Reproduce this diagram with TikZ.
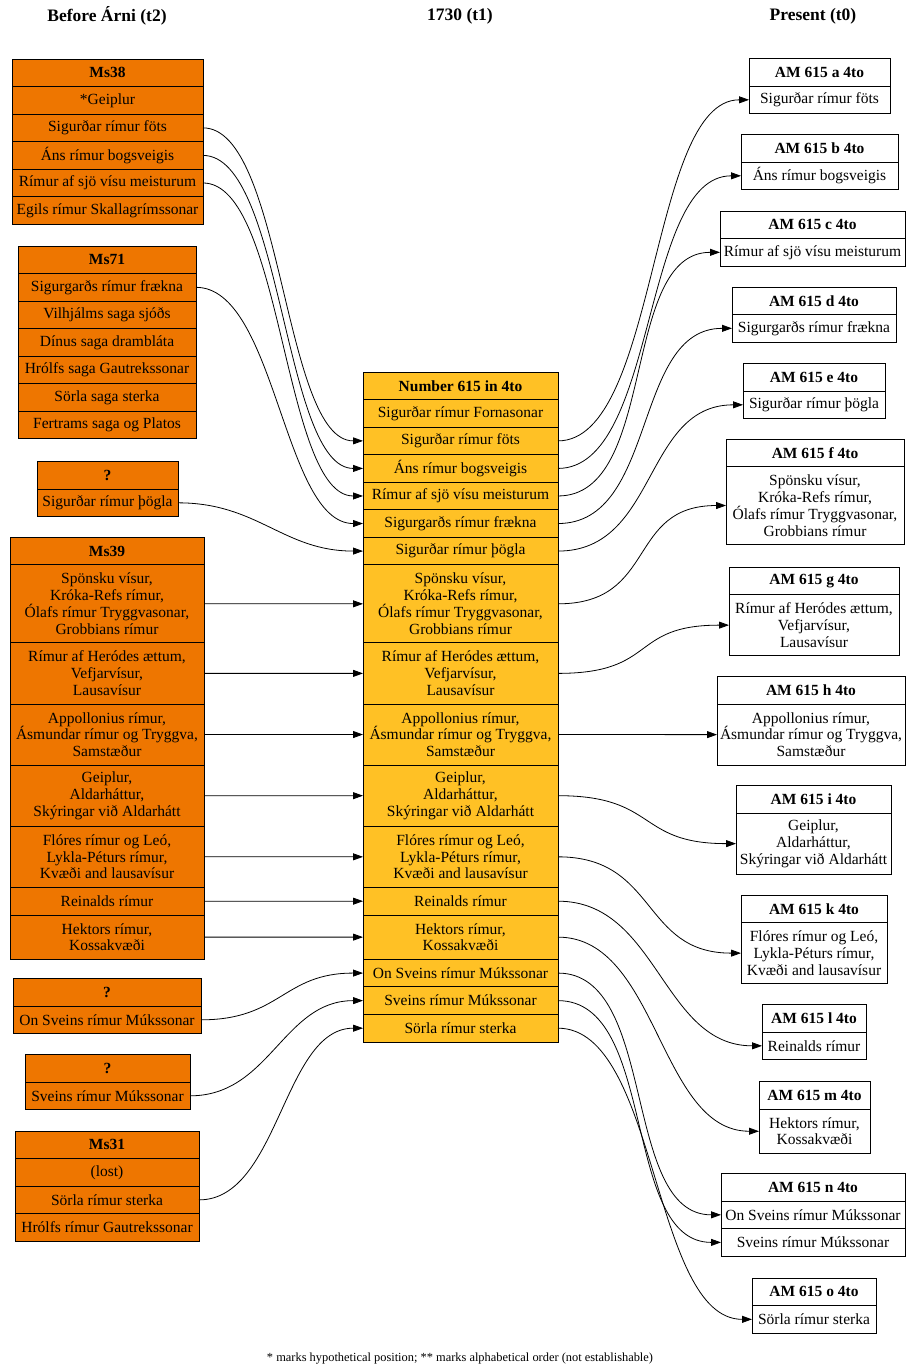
\documentclass[tikz,border=0pt]{standalone}
\usepackage{fontspec}
\setmainfont{Liberation Serif}
\usetikzlibrary{positioning,arrows.meta}
\definecolor{msorange}{HTML}{EE7600}
\definecolor{msgold}{HTML}{FFC125}
\tikzset{
  cell/.style={draw, line width=0.8pt, outer sep=0pt, inner sep=1pt, align=center,
    font=\fontsize{15.5}{16.8}\selectfont, minimum height={10.75pt+16.8pt*#1}},
  cell/.default=1,
  oldcell/.style={cell=#1, fill=msorange},
  oldcell/.default=1,
  midcell/.style={cell=#1, fill=msgold},
  midcell/.default=1,
  newcell/.style={cell=#1, fill=white},
  newcell/.default=1,
  headtext/.style={font=\fontsize{15.5}{16.8}\selectfont\bfseries},
  titletext/.style={font=\fontsize{17.5}{20}\selectfont\bfseries},
  link/.style={line width=0.8pt, -{Triangle[length=10pt,width=7pt]}},
}
\begin{document}
\begin{tikzpicture}[x=1pt,y=-1pt]
  \useasboundingbox (0,0) rectangle (905,1367);

  % column titles
  \node[titletext] (t2) at (107,16) {Before Árni (t2)};
  \node[titletext] (t1) at (460,16) {1730 (t1)};
  \node[titletext] (t0) at (813,16) {Present (t0)};

  % before Arni
  \begin{scope}[nodes={minimum width=191}]
    \node[oldcell, headtext, anchor=north] (ms38) at (107.5,59) {Ms38};
    \node[oldcell, below=0pt of ms38] (ms38-1) {*Geiplur};
    \node[oldcell, below=0pt of ms38-1] (ms38-2) {Sigurðar rímur föts};
    \node[oldcell, below=0pt of ms38-2] (ms38-3) {Áns rímur bogsveigis};
    \node[oldcell, below=0pt of ms38-3] (ms38-4) {Rímur af sjö vísu meisturum};
    \node[oldcell, below=0pt of ms38-4] (ms38-5) {Egils rímur Skallagrímssonar};
  \end{scope}
  \begin{scope}[nodes={minimum width=178}]
    \node[oldcell, headtext, anchor=north] (ms71) at (107,246) {Ms71};
    \node[oldcell, below=0pt of ms71] (ms71-1) {Sigurgarðs rímur frækna};
    \node[oldcell, below=0pt of ms71-1] (ms71-2) {Vilhjálms saga sjóðs};
    \node[oldcell, below=0pt of ms71-2] (ms71-3) {Dínus saga drambláta};
    \node[oldcell, below=0pt of ms71-3] (ms71-4) {Hrólfs saga Gautrekssonar};
    \node[oldcell, below=0pt of ms71-4] (ms71-5) {Sörla saga sterka};
    \node[oldcell, below=0pt of ms71-5] (ms71-6) {Fertrams saga og Platos};
  \end{scope}
  \begin{scope}[nodes={minimum width=141}]
    \node[oldcell, headtext, anchor=north] (qa) at (107.5,461.5) {?};
    \node[oldcell, below=0pt of qa] (qa-1) {Sigurðar rímur þögla};
  \end{scope}
  \begin{scope}[nodes={minimum width=194}]
    \node[oldcell, headtext, anchor=north] (ms39) at (107,537.3) {Ms39};
    \node[oldcell=4, below=0pt of ms39] (ms39-1) {Spönsku vísur,\\Króka-Refs rímur,\\Ólafs rímur Tryggvasonar,\\Grobbians rímur};
    \node[oldcell=3, below=0pt of ms39-1] (ms39-2) {Rímur af Heródes ættum,\\Vefjarvísur,\\Lausavísur};
    \node[oldcell=3, below=0pt of ms39-2] (ms39-3) {Appollonius rímur,\\Ásmundar rímur og Tryggva,\\Samstæður};
    \node[oldcell=3, below=0pt of ms39-3] (ms39-4) {Geiplur,\\Aldarháttur,\\Skýringar við Aldarhátt};
    \node[oldcell=3, below=0pt of ms39-4] (ms39-5) {Flóres rímur og Leó,\\Lykla-Péturs rímur,\\Kvæði and lausavísur};
    \node[oldcell, below=0pt of ms39-5] (ms39-6) {Reinalds rímur};
    \node[oldcell=2, below=0pt of ms39-6] (ms39-7) {Hektors rímur,\\Kossakvæði};
  \end{scope}
  \begin{scope}[nodes={minimum width=188}]
    \node[oldcell, headtext, anchor=north] (qb) at (107,978.5) {?};
    \node[oldcell, below=0pt of qb] (qb-1) {On Sveins rímur Múkssonar};
  \end{scope}
  \begin{scope}[nodes={minimum width=165}]
    \node[oldcell, headtext, anchor=north] (qc) at (107.5,1054.5) {?};
    \node[oldcell, below=0pt of qc] (qc-1) {Sveins rímur Múkssonar};
  \end{scope}
  \begin{scope}[nodes={minimum width=184}]
    \node[oldcell, headtext, anchor=north] (ms31) at (107,1131) {Ms31};
    \node[oldcell, below=0pt of ms31] (ms31-1) {(lost)};
    \node[oldcell, below=0pt of ms31-1] (ms31-2) {Sörla rímur sterka};
    \node[oldcell, below=0pt of ms31-2] (ms31-3) {Hrólfs rímur Gautrekssonar};
  \end{scope}

  % 1730
  \begin{scope}[nodes={minimum width=195}]
    \node[midcell, headtext, anchor=north] (n615) at (460.5,372) {Number 615 in 4to};
    \node[midcell, below=0pt of n615] (n615-1) {Sigurðar rímur Fornasonar};
    \node[midcell, below=0pt of n615-1] (n615-2) {Sigurðar rímur föts};
    \node[midcell, below=0pt of n615-2] (n615-3) {Áns rímur bogsveigis};
    \node[midcell, below=0pt of n615-3] (n615-4) {Rímur af sjö vísu meisturum};
    \node[midcell, below=0pt of n615-4] (n615-5) {Sigurgarðs rímur frækna};
    \node[midcell, below=0pt of n615-5] (n615-6) {Sigurðar rímur þögla};
    \node[midcell=4, below=0pt of n615-6] (n615-7) {Spönsku vísur,\\Króka-Refs rímur,\\Ólafs rímur Tryggvasonar,\\Grobbians rímur};
    \node[midcell=3, below=0pt of n615-7] (n615-8) {Rímur af Heródes ættum,\\Vefjarvísur,\\Lausavísur};
    \node[midcell=3, below=0pt of n615-8] (n615-9) {Appollonius rímur,\\Ásmundar rímur og Tryggva,\\Samstæður};
    \node[midcell=3, below=0pt of n615-9] (n615-10) {Geiplur,\\Aldarháttur,\\Skýringar við Aldarhátt};
    \node[midcell=3, below=0pt of n615-10] (n615-11) {Flóres rímur og Leó,\\Lykla-Péturs rímur,\\Kvæði and lausavísur};
    \node[midcell, below=0pt of n615-11] (n615-12) {Reinalds rímur};
    \node[midcell=2, below=0pt of n615-12] (n615-13) {Hektors rímur,\\Kossakvæði};
    \node[midcell, below=0pt of n615-13] (n615-14) {On Sveins rímur Múkssonar};
    \node[midcell, below=0pt of n615-14] (n615-15) {Sveins rímur Múkssonar};
    \node[midcell, below=0pt of n615-15] (n615-16) {Sörla rímur sterka};
  \end{scope}

  % present
  \begin{scope}[nodes={minimum width=141}]
    \node[newcell, headtext, anchor=north] (am-a) at (819.5,58.5) {AM 615 a 4to};
    \node[newcell, below=0pt of am-a] (am-a-1) {Sigurðar rímur föts};
  \end{scope}
  \begin{scope}[nodes={minimum width=157}]
    \node[newcell, headtext, anchor=north] (am-b) at (819.5,134.5) {AM 615 b 4to};
    \node[newcell, below=0pt of am-b] (am-b-1) {Áns rímur bogsveigis};
  \end{scope}
  \begin{scope}[nodes={minimum width=185}]
    \node[newcell, headtext, anchor=north] (am-c) at (812.5,211) {AM 615 c 4to};
    \node[newcell, below=0pt of am-c] (am-c-1) {Rímur af sjö vísu meisturum};
  \end{scope}
  \begin{scope}[nodes={minimum width=164}]
    \node[newcell, headtext, anchor=north] (am-d) at (814,287) {AM 615 d 4to};
    \node[newcell, below=0pt of am-d] (am-d-1) {Sigurgarðs rímur frækna};
  \end{scope}
  \begin{scope}[nodes={minimum width=142}]
    \node[newcell, headtext, anchor=north] (am-e) at (814,363.5) {AM 615 e 4to};
    \node[newcell, below=0pt of am-e] (am-e-1) {Sigurðar rímur þögla};
  \end{scope}
  \begin{scope}[nodes={minimum width=178}]
    \node[newcell, headtext, anchor=north] (am-f) at (815,439) {AM 615 f 4to};
    \node[newcell=4, below=0pt of am-f] (am-f-1) {Spönsku vísur,\\Króka-Refs rímur,\\Ólafs rímur Tryggvasonar,\\Grobbians rímur};
  \end{scope}
  \begin{scope}[nodes={minimum width=170}]
    \node[newcell, headtext, anchor=north] (am-g) at (814,567) {AM 615 g 4to};
    \node[newcell=3, below=0pt of am-g] (am-g-1) {Rímur af Heródes ættum,\\Vefjarvísur,\\Lausavísur};
  \end{scope}
  \begin{scope}[nodes={minimum width=188}]
    \node[newcell, headtext, anchor=north] (am-h) at (811,676.5) {AM 615 h 4to};
    \node[newcell=3, below=0pt of am-h] (am-h-1) {Appollonius rímur,\\Ásmundar rímur og Tryggva,\\Samstæður};
  \end{scope}
  \begin{scope}[nodes={minimum width=155}]
    \node[newcell, headtext, anchor=north] (am-i) at (813.5,785.5) {AM 615 i 4to};
    \node[newcell=3, below=0pt of am-i] (am-i-1) {Geiplur,\\Aldarháttur,\\Skýringar við Aldarhátt};
  \end{scope}
  \begin{scope}[nodes={minimum width=146}]
    \node[newcell, headtext, anchor=north] (am-k) at (814,895) {AM 615 k 4to};
    \node[newcell=3, below=0pt of am-k] (am-k-1) {Flóres rímur og Leó,\\Lykla-Péturs rímur,\\Kvæði and lausavísur};
  \end{scope}
  \begin{scope}[nodes={minimum width=104}]
    \node[newcell, headtext, anchor=north] (am-l) at (814,1004.5) {AM 615 l 4to};
    \node[newcell, below=0pt of am-l] (am-l-1) {Reinalds rímur};
  \end{scope}
  \begin{scope}[nodes={minimum width=111}]
    \node[newcell, headtext, anchor=north] (am-m) at (814.5,1081.5) {AM 615 m 4to};
    \node[newcell=2, below=0pt of am-m] (am-m-1) {Hektors rímur,\\Kossakvæði};
  \end{scope}
  \begin{scope}[nodes={minimum width=184}]
    \node[newcell, headtext, anchor=north] (am-n) at (813,1173.5) {AM 615 n 4to};
    \node[newcell, below=0pt of am-n] (am-n-1) {On Sveins rímur Múkssonar};
    \node[newcell, below=0pt of am-n-1] (am-n-2) {Sveins rímur Múkssonar};
  \end{scope}
  \begin{scope}[nodes={minimum width=124}]
    \node[newcell, headtext, anchor=north] (am-o) at (814,1278) {AM 615 o 4to};
    \node[newcell, below=0pt of am-o] (am-o-1) {Sörla rímur sterka};
  \end{scope}

  \node[font=\fontsize{12.4}{14}\selectfont] (note) at (460,1359)
    {* marks hypothetical position; ** marks alphabetical order (not establishable)};

  % connectors
  \foreach \s/\t in {ms38-2/n615-2, ms38-3/n615-3, ms38-4/n615-4, ms71-1/n615-5,
      qa-1/n615-6, qb-1/n615-14, qc-1/n615-15, ms31-2/n615-16}
    \draw[link] (\s.east) .. controls +(80,0) and +(-80,0) .. (\t.west);
  \foreach \i [evaluate=\i as \j using int(\i+6)] in {1,...,7}
    \draw[link] (ms39-\i.east) -- (n615-\j.west);
  \foreach \s/\t in {n615-2/am-a-1, n615-3/am-b-1, n615-4/am-c-1, n615-5/am-d-1,
      n615-6/am-e-1, n615-7/am-f-1, n615-8/am-g-1, n615-10/am-i-1, n615-11/am-k-1,
      n615-12/am-l-1, n615-13/am-m-1, n615-14/am-n-1, n615-15/am-n-2, n615-16/am-o-1}
    \draw[link] (\s.east) .. controls +(100,0) and +(-100,0) .. (\t.west);
  \draw[link] (n615-9.east) -- (am-h-1.west);
\end{tikzpicture}
\end{document}
